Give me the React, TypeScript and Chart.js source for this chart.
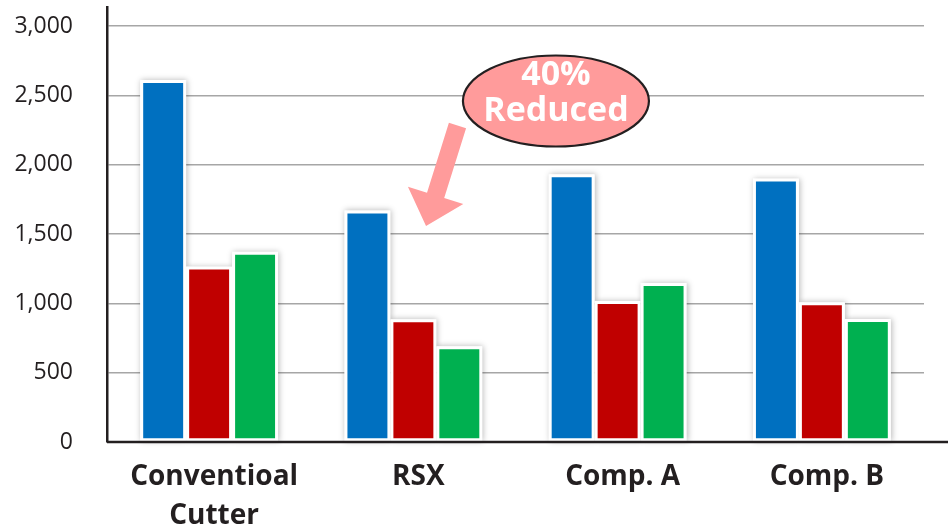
import React, { useEffect, useRef } from "react";
import { Chart, registerables } from "chart.js";

Chart.register(...registerables);

const categories: (string | string[])[] = [["Conventioal", "Cutter"], "RSX", "Comp. A", "Comp. B"];
const seriesBlue = [2610, 1670, 1930, 1900];
const seriesRed = [1265, 885, 1017, 1007];
const seriesGreen = [1372, 690, 1147, 887];
const yTicks = [0, 500, 1000, 1500, 2000, 2500, 3000];
const calloutLines = ["40%", "Reduced"];

const INK = "#231f20";
const PINK = "#ff9b9b";

const barShadowPlugin = {
  id: "barShadow",
  beforeDatasetsDraw(chart: any) {
    const ctx = chart.ctx;
    chart.data.datasets.forEach((_: any, i: number) => {
      const meta = chart.getDatasetMeta(i);
      meta.data.forEach((el: any) => {
        const { x, y, base, width } = el.getProps(["x", "y", "base", "width"], true);
        ctx.save();
        ctx.shadowColor = "rgba(0,0,0,0.28)";
        ctx.shadowBlur = 6;
        ctx.shadowOffsetX = 1;
        ctx.shadowOffsetY = 0;
        ctx.fillStyle = "#ffffff";
        ctx.fillRect(x - width / 2, y, width, base - y);
        ctx.restore();
      });
    });
  },
};

const axisAndCalloutPlugin = {
  id: "axisAndCallout",
  afterDraw(chart: any) {
    const ctx = chart.ctx;
    const { chartArea } = chart;
    const xs = chart.scales.x;
    const ys = chart.scales.y;
    // x axis line extending to the right edge
    ctx.save();
    ctx.strokeStyle = INK;
    ctx.lineWidth = 2.5;
    ctx.beginPath();
    ctx.moveTo(chartArea.left, chartArea.bottom);
    ctx.lineTo(chart.width, chartArea.bottom);
    ctx.stroke();
    ctx.restore();

    // arrow
    const tx = xs.getPixelForValue(1.216);
    const ty = ys.getPixelForValue(2282);
    const px = xs.getPixelForValue(1.062);
    const py = ys.getPixelForValue(1558);
    const dx = px - tx;
    const dy = py - ty;
    const len = Math.hypot(dx, dy);
    const ux = dx / len;
    const uy = dy / len;
    const nx = -uy;
    const ny = ux;
    const shaftHalf = 9;
    const headHalf = 29;
    const headLen = 32;
    const bx = px - ux * headLen;
    const by = py - uy * headLen;
    ctx.save();
    ctx.fillStyle = PINK;
    ctx.beginPath();
    ctx.moveTo(tx + nx * shaftHalf, ty + ny * shaftHalf);
    ctx.lineTo(bx + nx * shaftHalf, by + ny * shaftHalf);
    ctx.lineTo(bx + nx * headHalf, by + ny * headHalf);
    ctx.lineTo(px, py);
    ctx.lineTo(bx - nx * headHalf, by - ny * headHalf);
    ctx.lineTo(bx - nx * shaftHalf, by - ny * shaftHalf);
    ctx.lineTo(tx - nx * shaftHalf, ty - ny * shaftHalf);
    ctx.closePath();
    ctx.fill();

    // ellipse
    const cx = xs.getPixelForValue(1.698);
    const cy = ys.getPixelForValue(2459);
    ctx.beginPath();
    ctx.ellipse(cx, cy, 93, 45.5, 0, 0, Math.PI * 2);
    ctx.fillStyle = PINK;
    ctx.fill();
    ctx.lineWidth = 2.2;
    ctx.strokeStyle = INK;
    ctx.stroke();

    ctx.fillStyle = "#ffffff";
    ctx.textAlign = "center";
    ctx.textBaseline = "alphabetic";
    ctx.font = "bold 34px 'Open Sans'";
    ctx.fillText(calloutLines[0], cx, cy - 16);
    ctx.fillText(calloutLines[1], cx, cy + 20);
    ctx.restore();
  },
};

export default function App() {
  const ref = useRef<HTMLCanvasElement | null>(null);

  useEffect(() => {
    document.body.style.margin = "0";
    const canvas = ref.current;
    if (!canvas) return;
    const common = {
      borderColor: "#ffffff",
      borderWidth: 3,
      borderSkipped: false as const,
      barPercentage: 1,
      categoryPercentage: 0.675,
    };
    const chart = new Chart(canvas, {
      type: "bar",
      data: {
        labels: categories as any,
        datasets: [
          { label: "A", data: seriesBlue, backgroundColor: "#0070c0", ...common },
          { label: "B", data: seriesRed, backgroundColor: "#c00000", ...common },
          { label: "C", data: seriesGreen, backgroundColor: "#00b050", ...common },
        ],
      },
      options: {
        animation: false,
        responsive: false,
        maintainAspectRatio: false,
        layout: { padding: { top: 7, right: 24, left: 0, bottom: 0 } },
        plugins: { legend: { display: false }, tooltip: { enabled: false } },
        scales: {
          x: {
            grid: { display: false, drawTicks: false },
            border: { display: false },
            ticks: {
              color: INK,
              padding: 16,
              labelOffset: 5,
              maxRotation: 0,
              autoSkip: false,
              font: { family: "'Open Sans'", size: 28, weight: "bold", lineHeight: 1.39 },
            },
            afterFit(scale: any) {
              scale.height = 90;
              scale.paddingLeft = 0;
              scale.paddingRight = 0;
            },
          },
          y: {
            min: 0,
            max: 3137,
            ticks: {
              color: INK,
              padding: 34,
              font: { family: "'Open Sans'", size: 23 },
              callback: (v: any) => Number(v).toLocaleString("en-US"),
            },
            afterBuildTicks(scale: any) {
              scale.ticks = yTicks.map((v) => ({ value: v }));
            },
            afterFit(scale: any) {
              scale.width = 107;
              scale.paddingTop = 0;
              scale.paddingBottom = 0;
            },
            grid: { color: "#a6a6a6", lineWidth: 1.5, drawTicks: false },
            border: { display: true, color: INK, width: 2.5 },
          },
        },
      },
      plugins: [barShadowPlugin, axisAndCalloutPlugin],
    });
    return () => chart.destroy();
  }, []);

  return (
    <div style={{ width: 948, height: 532, position: "relative" }}>
      <canvas ref={ref} width={948} height={532} style={{ display: "block", width: 948, height: 532 }} />
    </div>
  );
}
